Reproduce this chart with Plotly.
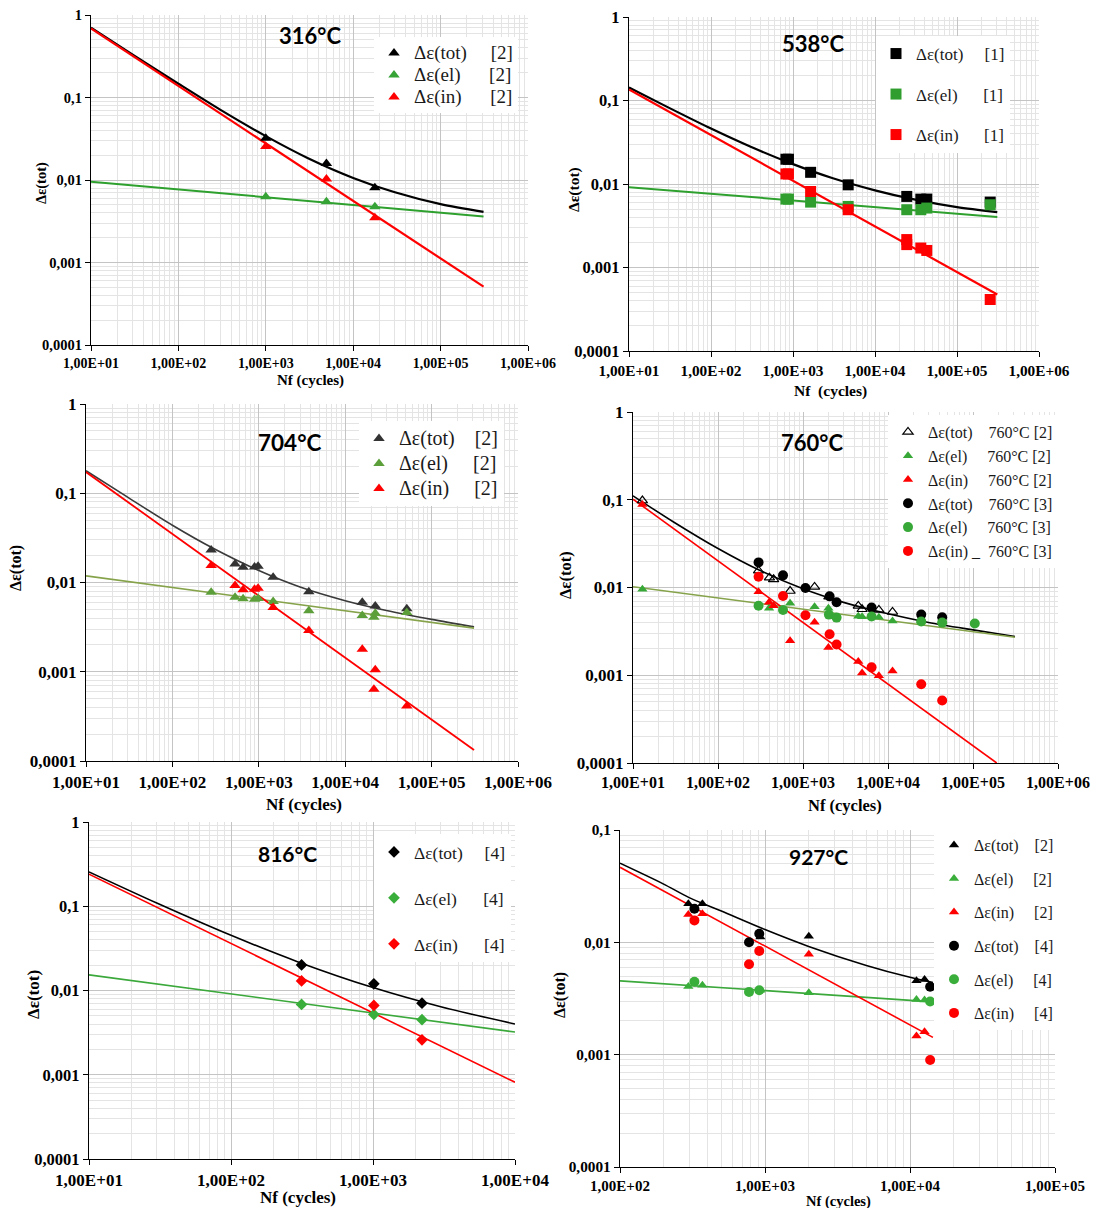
import plotly.graph_objects as go

PAGE_W, PAGE_H = 1099, 1216
OFF = 8                      # default body margin of the html page
W, H = PAGE_W - OFF, PAGE_H - 2 * OFF
SERIF = "Liberation Serif"
TITLE_FONT = "Lato"
MAJOR = "#c4c4c4"
MINOR = "#e4e4e4"
RED = "#ff0000"
BLACK = "#000000"

# ---------------- tick labels ----------------
X_TICK_EXP = [1, 2, 3, 4, 5, 6]
X_TICK_TEXT = ["1,00E+01", "1,00E+02", "1,00E+03", "1,00E+04", "1,00E+05", "1,00E+06"]
Y_TICK_EXP = [0, -1, -2, -3, -4]
Y_TICK_TEXT = ["1", "0,1", "0,01", "0,001", "0,0001"]

# ---------------- 316 °C ----------------
T316_N = [1000, 4940, 17700]
T316_TOT = [0.032, 0.0159, 0.00807]
T316_EL = [0.00628, 0.00546, 0.00475]
T316_IN = [0.0254, 0.0103, 0.00349]
T316_FIT_N = [10, 30, 100, 300, 1000, 3000, 10000, 30000, 100000, 310000]
T316_FIT_TOT = [0.70, 0.33, 0.147, 0.0713, 0.034, 0.0185, 0.0106, 0.0071, 0.0051, 0.0041]
T316_FIT_EL_N = [10, 310000]
T316_FIT_EL = [0.00955, 0.0036]
T316_FIT_IN_N = [10, 310000]
T316_FIT_IN = [0.689, 0.000509]

# ---------------- 538 °C ----------------
T538_N = [820, 880, 1640, 4710, 24400, 36200, 42800, 254000]
T538_TOT = [0.0198, 0.0198, 0.0138, 0.00977, 0.0071, 0.00659, 0.0066, 0.00607]
T538_EL = [0.00659, 0.00659, 0.00607, 0.00539, 0.00492, 0.00492, 0.00515, 0.00564]
T538_IN_N = [820, 880, 1640, 4710, 24400, 24400, 36200, 42800, 254000]
T538_IN = [0.0132, 0.0132, 0.00813, 0.00492, 0.00216, 0.00188, 0.00171, 0.0016, 0.000414]
T538_FIT_N = [10, 30, 100, 300, 1000, 3000, 10000, 30000, 100000, 310000]
T538_FIT_TOT = [0.143, 0.0827, 0.0461, 0.0281, 0.0173, 0.0118, 0.0084, 0.00654, 0.00528, 0.0046]
T538_FIT_EL_N = [10, 310000]
T538_FIT_EL = [0.00917, 0.00402]
T538_FIT_IN_N = [10, 310000]
T538_FIT_IN = [0.1357, 0.000475]

# ---------------- 704 °C ----------------
T704_TOT_N = [281, 531, 658, 893, 981, 1466, 3794, 15770, 22280, 51640]
T704_TOT = [0.0232, 0.0161, 0.01486, 0.0149, 0.0152, 0.01148, 0.00786, 0.00602, 0.00547, 0.00507]
T704_EL_N = [281, 531, 658, 893, 981, 1466, 3794, 15770, 21500, 22280, 51640]
T704_EL = [0.0078, 0.00685, 0.00656, 0.0065, 0.0066, 0.00612, 0.00481, 0.00426, 0.00409, 0.00453, 0.0046]
T704_IN_N = [281, 531, 658, 893, 981, 1466, 3794, 15770, 22280, 21500, 51640]
T704_IN = [0.0155, 0.00925, 0.00827, 0.0084, 0.00864, 0.00525, 0.0029, 0.00179, 0.00105, 0.000637, 0.000414]
T704_FIT_N = [10, 30, 100, 300, 1000, 3000, 10000, 30000, 100000, 310000]
T704_FIT_TOT = [0.179, 0.0909, 0.0438, 0.024, 0.0136, 0.0089, 0.00625, 0.00485, 0.00386, 0.00318]
T704_FIT_EL_N = [10, 310000]
T704_FIT_EL = [0.01188, 0.00308]
T704_FIT_IN_N = [10, 310000]
T704_FIT_IN = [0.1727, 0.000133]

# ---------------- 760 °C ----------------
T760_TOT2_N = [12.9, 300, 403, 451, 705, 1368, 2017, 4470, 4955, 7810, 11300]
T760_TOT2 = [0.098, 0.01554, 0.01294, 0.0124, 0.00912, 0.01014, 0.00786, 0.00616, 0.00565, 0.00555, 0.00526]
T760_EL2_N = [12.9, 399, 451, 705, 1368, 1990, 4470, 4955, 7810, 11300, 24600, 43400]
T760_EL2 = [0.00953, 0.0058, 0.0062, 0.0066, 0.00605, 0.0058, 0.0047, 0.00465, 0.00458, 0.00416, 0.0042, 0.0041]
T760_IN2_N = [12.9, 300, 399, 451, 705, 1368, 1990, 4470, 4955, 7810, 11300]
T760_IN2 = [0.0883, 0.00897, 0.00678, 0.0062, 0.00248, 0.00402, 0.00207, 0.00143, 0.00106, 0.000985, 0.00112]
T760_TOT3_N = [300, 582, 1069, 2055, 2483, 6410, 24600, 43400]
T760_TOT3 = [0.01933, 0.01375, 0.00987, 0.00793, 0.00678, 0.0059, 0.00491, 0.00458]
T760_EL3_N = [300, 582, 2017, 2483, 6410, 24600, 43400, 104900]
T760_EL3 = [0.0062, 0.00555, 0.00491, 0.00454, 0.00467, 0.00409, 0.00398, 0.00388]
T760_IN3_N = [300, 582, 1069, 2055, 2483, 6410, 24600, 43400]
T760_IN3 = [0.01328, 0.008, 0.00483, 0.00293, 0.00224, 0.00123, 0.00079, 0.000516]
T760_FIT_N = [10, 30, 100, 300, 1000, 3000, 10000, 30000, 100000, 312000]
T760_FIT_TOT = [0.1108, 0.0558, 0.0278, 0.0159, 0.00966, 0.00677, 0.00501, 0.0040, 0.00329, 0.00276]
T760_FIT_EL_N = [10, 312000]
T760_FIT_EL = [0.01022, 0.00271]
T760_FIT_IN_N = [10, 190000]
T760_FIT_IN = [0.1016, 0.0001]

# ---------------- 816 °C ----------------
T816_N = [314, 1014, 2213]
T816_TOT = [0.0201, 0.012, 0.00708]
T816_EL = [0.00683, 0.0052, 0.0045]
T816_IN = [0.013, 0.00665, 0.0026]
T816_FIT_N = [10, 30, 100, 300, 1000, 3000, 10000]
T816_FIT_TOT = [0.256, 0.1093, 0.0452, 0.0217, 0.01084, 0.00642, 0.0040]
T816_FIT_EL_N = [10, 10000]
T816_FIT_EL = [0.01532, 0.00321]
T816_FIT_IN_N = [10, 10000]
T816_FIT_IN = [0.2404, 0.000815]

# ---------------- 927 °C ----------------
T927_TOT2_N = [296, 370, 929, 2005, 11080, 12600]
T927_TOT2 = [0.022, 0.022, 0.01115, 0.0113, 0.00454, 0.00467]
T927_EL2 = [0.00404, 0.00415, 0.00375, 0.00355, 0.0031, 0.00306]
T927_IN2_N = [296, 370, 2005, 11080, 12600]
T927_IN2 = [0.0177, 0.018, 0.00782, 0.001466, 0.0016]
T927_TOT4_N = [326, 776, 913, 13770]
T927_TOT4 = [0.0199, 0.010, 0.01194, 0.00402]
T927_EL4 = [0.00445, 0.00362, 0.00375, 0.00297]
T927_IN4 = [0.01568, 0.00638, 0.00838, 0.000898]
T927_FIT_N = [100, 200, 300, 500, 1000, 2000, 5000, 10000, 14390]
T927_FIT_TOT = [0.0506, 0.033, 0.025, 0.019, 0.013, 0.0092, 0.00623, 0.00488, 0.00439]
T927_FIT_EL_N = [100, 14390]
T927_FIT_EL = [0.00454, 0.00295]
T927_FIT_IN_N = [100, 14390]
T927_FIT_IN = [0.0466, 0.001425]


def nb(k):
    return "\u00a0" * k


def lname(text, size=None):
    if size is None:
        return text
    return '<span style="font-size:%dpx">%s</span>' % (size, text)


GREEN_A = "#35a335"
GREEN_OL_M = "#5c9f3a"
GREEN_OL_L = "#86a34b"

panels = [
    dict(x0=91, x1=528, y0=15, y1=345, xr=(1, 6), yr=(-4, 0), xtf=14, ytf=14.5,
         title="316°C", tpos=(310, 36), tsize=22, xt=(310, 381), xts=15, yt=(41, 183), yts=14.5,
         leg=dict(left=374, top=37, base=14.6, gap=0),
         lines=[(T316_FIT_N, T316_FIT_TOT, BLACK, 2.2), (T316_FIT_EL_N, T316_FIT_EL, "#2ea02e", 2.0),
                (T316_FIT_IN_N, T316_FIT_IN, RED, 2.2)],
         marks=[(lname("Δε(tot)" + nb(5) + "[2]", 19), T316_N, T316_TOT, "triangle-up", BLACK, 10),
                (lname("Δε(el)" + nb(6) + "[2]", 19), T316_N, T316_EL, "triangle-up", GREEN_A, 10),
                (lname("Δε(in)" + nb(6) + "[2]", 19), T316_N, T316_IN, "triangle-up", RED, 10)]),
    dict(x0=629, x1=1039, y0=17, y1=351, xr=(1, 6), yr=(-4, 0), xtf=15.3, ytf=16.5,
         title="538°C", tpos=(813, 43), tsize=22, xt=(830, 391), xts=15.5, yt=(574, 190), yts=15.5,
         leg=dict(left=876, top=36, base=17, gap=15.4),
         lines=[(T538_FIT_N, T538_FIT_TOT, BLACK, 2.2), (T538_FIT_EL_N, T538_FIT_EL, "#2ea02e", 2.0),
                (T538_FIT_IN_N, T538_FIT_IN, RED, 2.2)],
         marks=[("Δε(tot)" + nb(5) + "[1]", T538_N, T538_TOT, "square", BLACK, 11),
                ("Δε(el)" + nb(6) + "[1]", T538_N, T538_EL, "square", "#2f9e2f", 11),
                ("Δε(in)" + nb(6) + "[1]", T538_IN_N, T538_IN, "square", RED, 11)]),
    dict(x0=86, x1=518, y0=404, y1=761, xr=(1, 6), yr=(-4, 0), xtf=17, ytf=17,
         title="704°C", tpos=(289, 442), tsize=22.5, xt=(304, 804), xts=17, yt=(16, 568), yts=16,
         leg=dict(left=359, top=421, base=16.9, gap=0),
         lines=[(T704_FIT_N, T704_FIT_TOT, "#3a3a3a", 1.6), (T704_FIT_EL_N, T704_FIT_EL, GREEN_OL_L, 1.6),
                (T704_FIT_IN_N, T704_FIT_IN, RED, 1.8)],
         marks=[(lname("Δε(tot)" + nb(4) + "[2]", 20), T704_TOT_N, T704_TOT, "triangle-up", "#333333", 10),
                (lname("Δε(el)" + nb(5) + "[2]", 20), T704_EL_N, T704_EL, "triangle-up", GREEN_OL_M, 10),
                (lname("Δε(in)" + nb(5) + "[2]", 20), T704_IN_N, T704_IN, "triangle-up", RED, 10)]),
    dict(x0=633, x1=1058, y0=412, y1=763, xr=(1, 6), yr=(-4, 0), xtf=16, ytf=17,
         title="760°C", tpos=(812, 442), tsize=22, xt=(845, 805), xts=16.5, yt=(566, 575), yts=16.5,
         leg=dict(left=888, top=415, base=16, gap=0),
         lines=[(T760_FIT_N, T760_FIT_TOT, BLACK, 1.6), (T760_FIT_EL_N, T760_FIT_EL, GREEN_OL_L, 1.6),
                (T760_FIT_IN_N, T760_FIT_IN, RED, 1.6)],
         marks=[(lname("Δε(tot)" + nb(4) + "760°C [2]", 16), T760_TOT2_N, T760_TOT2, "triangle-up-open", BLACK, 9),
                (lname("Δε(el)" + nb(5) + "760°C [2]", 16), T760_EL2_N, T760_EL2, "triangle-up", "#37a837", 9),
                (lname("Δε(in)" + nb(5) + "760°C [2]", 16), T760_IN2_N, T760_IN2, "triangle-up", RED, 9),
                (lname("Δε(tot)" + nb(4) + "760°C [3]", 16), T760_TOT3_N, T760_TOT3, "circle", BLACK, 10),
                (lname("Δε(el)" + nb(5) + "760°C [3]", 16), T760_EL3_N, T760_EL3, "circle", "#37a837", 10),
                (lname("Δε(in)" + nb(1) + "_" + nb(2) + "760°C [3]", 16), T760_IN3_N, T760_IN3, "circle", RED, 10)]),
    dict(x0=89, x1=515, y0=822, y1=1159, xr=(1, 4), yr=(-4, 0), xtf=17, ytf=16.5,
         title="816°C", tpos=(287, 853), tsize=21, xt=(298, 1197), xts=17, yt=(33, 995), yts=17,
         leg=dict(left=374, top=834, base=17.5, gap=20.2),
         lines=[(T816_FIT_N, T816_FIT_TOT, BLACK, 1.6), (T816_FIT_EL_N, T816_FIT_EL, "#3aa83a", 1.6),
                (T816_FIT_IN_N, T816_FIT_IN, RED, 1.6)],
         marks=[("Δε(tot)" + nb(5) + "[4]", T816_N, T816_TOT, "diamond", BLACK, 9),
                ("Δε(el)" + nb(6) + "[4]", T816_N, T816_EL, "diamond", "#3aae3a", 9),
                ("Δε(in)" + nb(6) + "[4]", T816_N, T816_IN, "diamond", RED, 9)]),
    dict(x0=620, x1=1055, y0=830, y1=1167, xr=(2, 5), yr=(-4, -1), xtf=15, ytf=15.3,
         title="927°C", tpos=(818, 856), tsize=21, xt=(838, 1201), xts=14.5, yt=(560, 995), yts=16,
         leg=dict(left=934, top=828, base=16, gap=9.8),
         lines=[(T927_FIT_N, T927_FIT_TOT, BLACK, 1.6), (T927_FIT_EL_N, T927_FIT_EL, "#3aa83a", 1.6),
                (T927_FIT_IN_N, T927_FIT_IN, RED, 1.6)],
         marks=[("Δε(tot)" + nb(4) + "[2]", T927_TOT2_N, T927_TOT2, "triangle-up", BLACK, 9),
                ("Δε(el)" + nb(5) + "[2]", T927_TOT2_N, T927_EL2, "triangle-up", "#3aae3a", 9),
                ("Δε(in)" + nb(5) + "[2]", T927_IN2_N, T927_IN2, "triangle-up", RED, 9),
                ("Δε(tot)" + nb(4) + "[4]", T927_TOT4_N, T927_TOT4, "circle", BLACK, 10),
                ("Δε(el)" + nb(5) + "[4]", T927_TOT4_N, T927_EL4, "circle", "#3aae3a", 10),
                ("Δε(in)" + nb(5) + "[4]", T927_TOT4_N, T927_IN4, "circle", RED, 10)]),
]


def fx(px):
    return (px - OFF) / W


def fy(py):
    return 1 - (py - OFF) / H


fig = go.Figure()
layout = dict(width=W, height=H, margin=dict(l=0, r=0, t=0, b=0, autoexpand=False),
              paper_bgcolor="white", plot_bgcolor="white", showlegend=True,
              hovermode=False, template="none")
annotations = []

for i, p in enumerate(panels, start=1):
    sfx = "" if i == 1 else str(i)
    xref, yref = "x" + sfx, "y" + sfx
    legname = "legend" + sfx

    xlo, xhi = p["xr"]
    ylo, yhi = p["yr"]
    xtv = [10.0 ** e for e in X_TICK_EXP if xlo <= e <= xhi]
    xtt = [t for e, t in zip(X_TICK_EXP, X_TICK_TEXT) if xlo <= e <= xhi]
    ytv = [10.0 ** e for e in Y_TICK_EXP if ylo <= e <= yhi]
    ytt = [t for e, t in zip(Y_TICK_EXP, Y_TICK_TEXT) if ylo <= e <= yhi]
    xminor = [m * 10.0 ** e for e in range(xlo, xhi) for m in range(2, 10)]
    yminor = [m * 10.0 ** e for e in range(ylo, yhi) for m in range(2, 10)]

    common = dict(type="log", tickmode="array", ticks="outside", ticklen=5, tickwidth=1,
                  tickcolor="black", showline=True, linecolor="black", linewidth=1.3,
                  showgrid=True, gridcolor=MAJOR, gridwidth=1, zeroline=False,
                  fixedrange=True, automargin=False, ticklabeloverflow="allow")
    layout["xaxis" + sfx] = dict(common, range=[xlo, xhi], domain=[fx(p["x0"]), fx(p["x1"])],
                                 anchor=yref, tickvals=xtv, ticktext=xtt,
                                 tickfont=dict(family=SERIF, size=p["xtf"], color="black", weight="bold"),
                                 minor=dict(tickmode="array", tickvals=xminor, showgrid=True,
                                            gridcolor=MINOR, gridwidth=1, ticks=""))
    layout["yaxis" + sfx] = dict(common, range=[ylo, yhi], domain=[fy(p["y1"]), fy(p["y0"])],
                                 anchor=xref, tickvals=ytv, ticktext=ytt,
                                 tickfont=dict(family=SERIF, size=p["ytf"], color="black", weight="bold"),
                                 minor=dict(tickmode="array", tickvals=yminor, showgrid=True,
                                            gridcolor=MINOR, gridwidth=1, ticks=""))

    for (nx, ny, col, wdt) in p["lines"]:
        fig.add_trace(go.Scatter(x=nx, y=ny, mode="lines",
                                 line=dict(color=col, width=wdt, shape="spline", smoothing=0.8),
                                 xaxis=xref, yaxis=yref, showlegend=False, hoverinfo="skip"))
    for k, (name, nx, ny, sym, col, sz) in enumerate(p["marks"]):
        mk = dict(symbol=sym, color=col, size=sz, line=dict(width=0))
        if sym.endswith("open"):
            mk["line"] = dict(color=col, width=1.2)
        fig.add_trace(go.Scatter(x=nx, y=ny, mode="markers", marker=mk, name=name,
                                 xaxis=xref, yaxis=yref, legend=legname,
                                 legendgroup="p%d_%d" % (i, k), showlegend=True))

    lg = p["leg"]
    layout[legname] = dict(x=fx(lg["left"]), y=fy(lg["top"]), xanchor="left", yanchor="top",
                           bgcolor="white", borderwidth=0, traceorder="grouped",
                           tracegroupgap=lg["gap"], itemclick=False, itemdoubleclick=False,
                           font=dict(family=SERIF, size=lg["base"], color="#1a1a1a"))

    tx, ty = p["tpos"]
    annotations.append(dict(x=fx(tx), y=fy(ty), xref="paper", yref="paper", text=p["title"],
                            showarrow=False, xanchor="center", yanchor="middle",
                            font=dict(family=TITLE_FONT, size=p["tsize"], color="black", weight="bold")))
    ax_, ay_ = p["xt"]
    annotations.append(dict(x=fx(ax_), y=fy(ay_), xref="paper", yref="paper",
                            text="Nf  (cycles)" if i == 2 else "Nf (cycles)",
                            showarrow=False, xanchor="center", yanchor="middle",
                            font=dict(family=SERIF, size=p["xts"], color="black", weight="bold")))
    bx, by = p["yt"]
    annotations.append(dict(x=fx(bx), y=fy(by), xref="paper", yref="paper", text="Δε(tot)",
                            textangle=-90, showarrow=False, xanchor="center", yanchor="middle",
                            font=dict(family=SERIF, size=p["yts"], color="black", weight="bold")))

layout["annotations"] = annotations
fig.update_layout(**layout)
fig.write_html("out.html")
